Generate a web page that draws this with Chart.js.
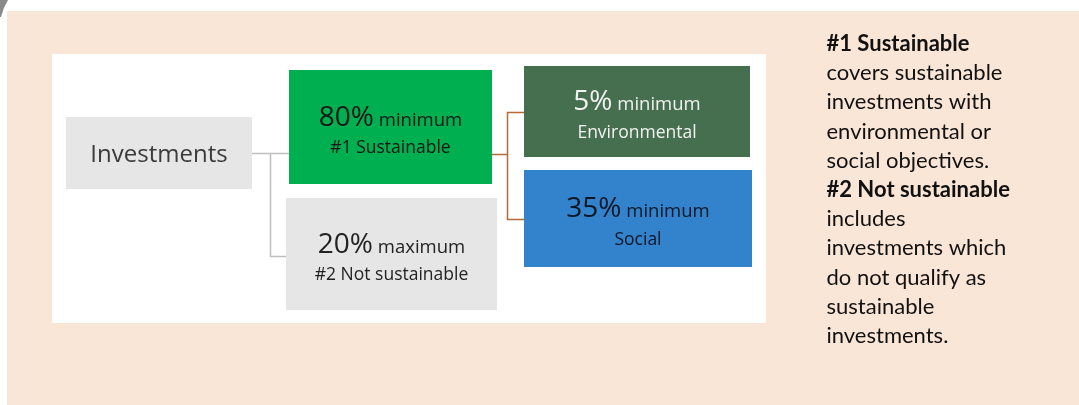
<!DOCTYPE html>
<html>
<head>
<meta charset="utf-8">
<script src="https://cdn.jsdelivr.net/npm/chart.js@4"></script>
<style>
  html, body { margin: 0; padding: 0; background: #fff; }
  #wrap { width: 1079px; height: 405px; position: relative; }
</style>
</head>
<body>
<div id="wrap"><canvas id="tree" width="1079" height="405"></canvas></div>
<script>
// データ
const nodeNames = ['Investments', '#1 Sustainable', '#2 Not sustainable', 'Environmental', 'Social'];
const nodeShares = [null, 80, 20, 5, 35];
const nodeBounds = ['', 'minimum', 'maximum', 'minimum', 'minimum'];
const noteLines = [
  '#1 Sustainable', 'covers sustainable', 'investments with', 'environmental or',
  'social objectives.', '#2 Not sustainable', 'includes', 'investments which',
  'do not qualify as', 'sustainable', 'investments.'
];
const noteBold = [true, false, false, false, false, true, false, false, false, false, false];

// レイアウト（ピクセル単位の座標系）
const W = 1079, H = 405;
const panelBox = [7, 11, 1079, 405];
const whiteBox = [52, 54, 766, 323];
const boxes = [
  [66, 117, 252, 189],
  [289, 70, 492, 184],
  [286, 198, 497, 310],
  [524, 66, 750, 157],
  [524, 170, 752, 267]
];
const boxColors = ['#E7E6E6', '#00B050', '#E7E6E6', '#466F4F', '#3382CC'];
const textColors = ['#3a3a3a', '#161616', '#222222', '#f2f2f2', '#0f1724'];
const links = [
  { color: '#BFBFBF', pts: [[252, 153.5], [289, 153.5]] },
  { color: '#BFBFBF', pts: [[270.5, 153.5], [270.5, 256.5], [286, 256.5]] },
  { color: '#B46A3A', pts: [[492, 154.5], [507.5, 154.5]] },
  { color: '#B46A3A', pts: [[524, 112.5], [507.5, 112.5], [507.5, 219.5], [524, 219.5]] }
];

function rectDataset(r, color, order) {
  return {
    data: [{ x: r[0], y: r[1] }, { x: r[2], y: r[1] }],
    showLine: true,
    fill: { target: { value: r[3] } },
    backgroundColor: color,
    borderColor: 'transparent',
    borderWidth: 0,
    pointRadius: 0,
    order: order
  };
}

const datasets = [];
datasets.push(rectDataset(panelBox, '#FAE6D6', 20));
datasets.push(rectDataset(whiteBox, '#FFFFFF', 19));
boxes.forEach((b, i) => datasets.push(rectDataset(b, boxColors[i], 10)));
links.forEach(l => {
  datasets.push({
    data: l.pts.map(p => ({ x: p[0], y: p[1] })),
    showLine: true,
    fill: false,
    borderColor: l.color,
    borderWidth: 1.5,
    pointRadius: 0,
    tension: 0,
    order: 5
  });
});

// テキスト描画
const labelPlugin = {
  id: 'labels',
  beforeDraw(chart) {
    const ctx = chart.ctx;
    ctx.save();
    ctx.fillStyle = '#8a8a8a';
    ctx.beginPath();
    ctx.moveTo(0, 0);
    ctx.lineTo(8, 0);
    ctx.quadraticCurveTo(3, 8, 1, 17);
    ctx.lineTo(0, 17);
    ctx.closePath();
    ctx.fill();
    ctx.restore();
  },
  afterDatasetsDraw(chart) {
    const ctx = chart.ctx;
    const xs = chart.scales.x, ys = chart.scales.y;
    ctx.save();
    ctx.textBaseline = 'alphabetic';
    boxes.forEach((b, i) => {
      const cx = (xs.getPixelForValue(b[0]) + xs.getPixelForValue(b[2])) / 2;
      const cy = (ys.getPixelForValue(b[1]) + ys.getPixelForValue(b[3])) / 2;
      ctx.fillStyle = textColors[i];
      if (nodeShares[i] === null) {
        ctx.font = '24px "Open Sans"';
        ctx.textAlign = 'center';
        ctx.fillText(nodeNames[i], cx, cy + 8.5);
        return;
      }
      const big = nodeShares[i] + '%';
      const small = ' ' + nodeBounds[i];
      ctx.font = '28px "Open Sans"';
      const wBig = ctx.measureText(big).width;
      ctx.font = '18.5px "Open Sans"';
      const wSmall = ctx.measureText(small).width;
      let x0 = cx - (wBig + wSmall) / 2;
      ctx.textAlign = 'left';
      ctx.font = '28px "Open Sans"';
      ctx.fillText(big, x0, cy - 1.5);
      ctx.font = '18.5px "Open Sans"';
      ctx.fillText(small, x0 + wBig, cy - 1.5);
      ctx.textAlign = 'center';
      ctx.font = '17.5px "Open Sans"';
      ctx.fillText(nodeNames[i], cx, cy + 26);
    });

    ctx.fillStyle = '#111111';
    ctx.textAlign = 'left';
    noteLines.forEach((t, i) => {
      ctx.font = (noteBold[i] ? 'bold ' : '') + '22px Lato';
      ctx.fillText(t, 826.5, 51 + i * 29.2);
    });
    ctx.restore();
  }
};

new Chart(document.getElementById('tree'), {
  type: 'scatter',
  data: { datasets: datasets },
  options: {
    responsive: false,
    animation: false,
    layout: { padding: 0 },
    plugins: { legend: { display: false }, tooltip: { enabled: false } },
    scales: {
      x: { type: 'linear', min: 0, max: W, display: false },
      y: { type: 'linear', min: 0, max: H, reverse: true, display: false }
    }
  },
  plugins: [labelPlugin]
});
</script>
</body>
</html>
